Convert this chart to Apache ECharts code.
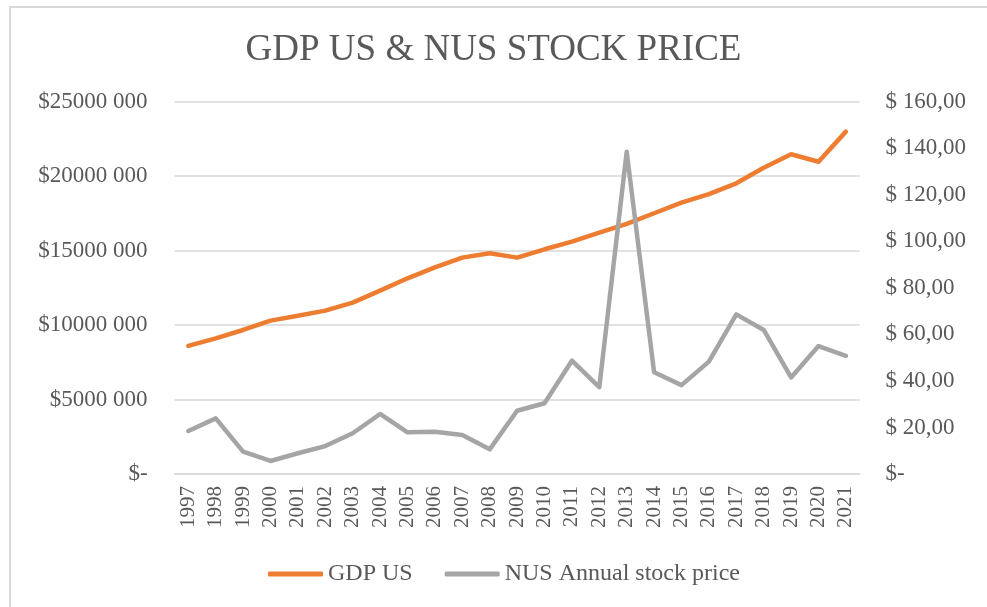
<!DOCTYPE html>
<html>
<head>
<meta charset="utf-8">
<script src="https://cdn.jsdelivr.net/npm/echarts@6/dist/echarts.min.js"></script>
<style>
html,body{margin:0;padding:0;background:#fff;}
#chart{width:987px;height:607px;}
</style>
</head>
<body>
<div id="chart"></div>
<script>
var years = ['1997','1998','1999','2000','2001','2002','2003','2004','2005','2006','2007','2008','2009','2010','2011','2012','2013','2014','2015','2016','2017','2018','2019','2020','2021'];
var gdpUS = [8600000, 9110000, 9670000, 10300000, 10630000, 10970000, 11510000, 12310000, 13140000, 13880000, 14530000, 14820000, 14530000, 15090000, 15600000, 16210000, 16790000, 17510000, 18220000, 18790000, 19520000, 20570000, 21470000, 20970000, 22990000];
var nusPrice = [18.5, 23.9, 9.6, 5.6, 8.9, 12.0, 17.5, 25.8, 17.9, 18.2, 16.8, 10.6, 27.2, 30.4, 48.7, 37.3, 138.5, 43.7, 38.2, 48.3, 68.6, 61.9, 41.5, 55.0, 50.8];
var seriesNames = ['GDP US', 'NUS Annual stock price'];

var FONT = '"Liberation Serif", "Times New Roman", serif';
var chart = echarts.init(document.getElementById('chart'));
chart.setOption({
  backgroundColor: '#ffffff',
  animation: false,
  title: {
    text: 'GDP US & NUS STOCK PRICE',
    left: 'center',
    top: 27,
    textStyle: { fontFamily: FONT, fontSize: 37, fontWeight: 'normal', color: '#595959' }
  },
  legend: {
    data: seriesNames,
    left: 263,
    top: 557,
    itemWidth: 55,
    itemHeight: 5,
    itemGap: 32,
    icon: 'roundRect',
    textStyle: { fontFamily: FONT, fontSize: 24, color: '#595959' }
  },
  grid: { left: 174.6, right: 127.4, top: 101.7, bottom: 133, containLabel: false },
  xAxis: {
    type: 'category',
    data: years,
    boundaryGap: true,
    axisLine: { show: true, lineStyle: { color: '#D9D9D9', width: 1.5 } },
    axisTick: { show: false },
    axisLabel: { rotate: 90, margin: 12, fontFamily: FONT, fontSize: 21, color: '#595959', interval: 0 }
  },
  yAxis: [
    {
      type: 'value', min: 0, max: 25000000, interval: 5000000,
      axisLine: { show: false }, axisTick: { show: false },
      splitLine: { lineStyle: { color: '#D9D9D9', width: 1.5 } },
      axisLabel: {
        margin: 27, fontFamily: FONT, fontSize: 23, color: '#595959',
        formatter: function (v) { return v === 0 ? '$-' : '$' + (v / 1000) + ' 000'; }
      }
    },
    {
      type: 'value', min: 0, max: 160, interval: 20, position: 'right',
      axisLine: { show: false }, axisTick: { show: false },
      splitLine: { show: false },
      axisLabel: {
        margin: 26, fontFamily: FONT, fontSize: 23, color: '#595959',
        formatter: function (v) { return v === 0 ? '$-' : '$ ' + v.toFixed(2).replace('.', ','); }
      }
    }
  ],
  graphic: [{
    type: 'rect', silent: true, z: -1,
    shape: { x: 10, y: 7, width: 1200, height: 800 },
    style: { fill: 'none', stroke: '#D9D9D9', lineWidth: 2 }
  }],
  series: [
    {
      name: seriesNames[0], type: 'line', yAxisIndex: 0, data: gdpUS,
      symbol: 'none', color: '#ED7D31',
      lineStyle: { color: '#ED7D31', width: 4.5, cap: 'round', join: 'round' }
    },
    {
      name: seriesNames[1], type: 'line', yAxisIndex: 1, data: nusPrice,
      symbol: 'none', color: '#A5A5A5',
      lineStyle: { color: '#A5A5A5', width: 4.5, cap: 'round', join: 'round' }
    }
  ]
});
</script>
</body>
</html>
